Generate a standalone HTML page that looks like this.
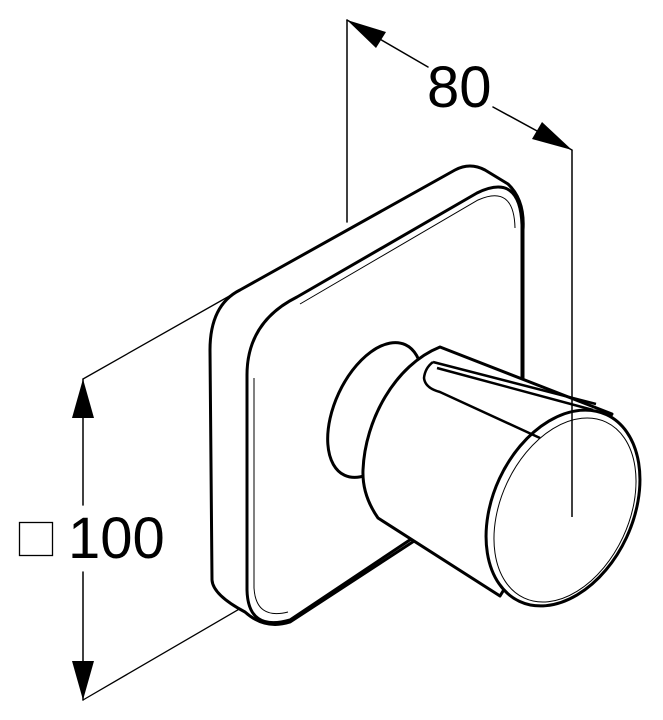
<!DOCTYPE html>
<html><head><style>html,body{margin:0;padding:0;background:#fff}svg{display:block}</style></head>
<body>
<svg width="663" height="720" viewBox="0 0 663 720" xmlns="http://www.w3.org/2000/svg">
<g fill="none" stroke="#000" stroke-linecap="round" stroke-linejoin="round">
<line x1="347" y1="20" x2="347" y2="222" stroke-width="1.5"/>
<line x1="347" y1="20" x2="428" y2="67" stroke-width="1.5"/>
<line x1="493" y1="107" x2="572" y2="150" stroke-width="1.5"/>
<line x1="83" y1="379" x2="83" y2="505" stroke-width="1.5"/>
<line x1="83" y1="572" x2="83" y2="700" stroke-width="1.5"/>
<line x1="83" y1="379" x2="240" y2="290" stroke-width="1.3"/>
<line x1="83" y1="700" x2="260" y2="597" stroke-width="1.3"/>
</g>
<g fill="#000">
<polygon points="347,20 386,32 376,48"/>
<polygon points="572,150 532,139 542,122"/>
<polygon points="83,379 72,418 94,418"/>
<polygon points="83,700 72,661 94,661"/>
</g>
<g fill="#fff" stroke="#000" stroke-width="3" stroke-linejoin="round">
<path d="M240,290 L455,170 Q470,162 485,170 L508,184 Q525,200 523,230 L523,470 L290,622 Q265,630 245,612 Q213,595 212,580 L210,350 Q210,305 240,290 Z"/>
<path d="M297,297 L477,193 Q520,172 522,225 L522,465 L290,620 Q248,632 247,590 L247,375 Q247,322 297,297 Z"/>
</g>
<path d="M300,304 L478,200 Q514,184 515,228 M254,378 L254,588 Q256,620 288,612" fill="none" stroke="#000" stroke-width="1"/>
<g stroke="#000" stroke-width="3" fill="#fff" stroke-linejoin="round">
<ellipse cx="375" cy="410" rx="40" ry="72" transform="rotate(25 375 410)"/>
<path d="M440,347 L612,414 L500,596 L378,518 Q362,495 363,470 C365,420 395,365 440,347 Z"/>
<ellipse cx="563" cy="508" rx="70" ry="103" transform="rotate(25 563 508)"/>
</g>
<ellipse cx="565" cy="510" rx="64" ry="97" transform="rotate(25 565 510)" fill="none" stroke="#000" stroke-width="1"/>
<path d="M433,362 Q425,368 424,378 Q425,388 440,392 L540,438 M437,368 L593,410 M433,362 L596,404" fill="none" stroke="#000" stroke-width="2.5"/>
<line x1="572" y1="150" x2="572" y2="517" stroke="#000" stroke-width="1.5"/>
<g font-family="Liberation Sans, sans-serif" fill="#000" font-size="58">
<text x="427" y="107">80</text>
<text x="68" y="558">100</text>
</g>
<rect x="19.5" y="522.5" width="33" height="33" fill="none" stroke="#000" stroke-width="1.3"/>
</svg>
</body></html>
